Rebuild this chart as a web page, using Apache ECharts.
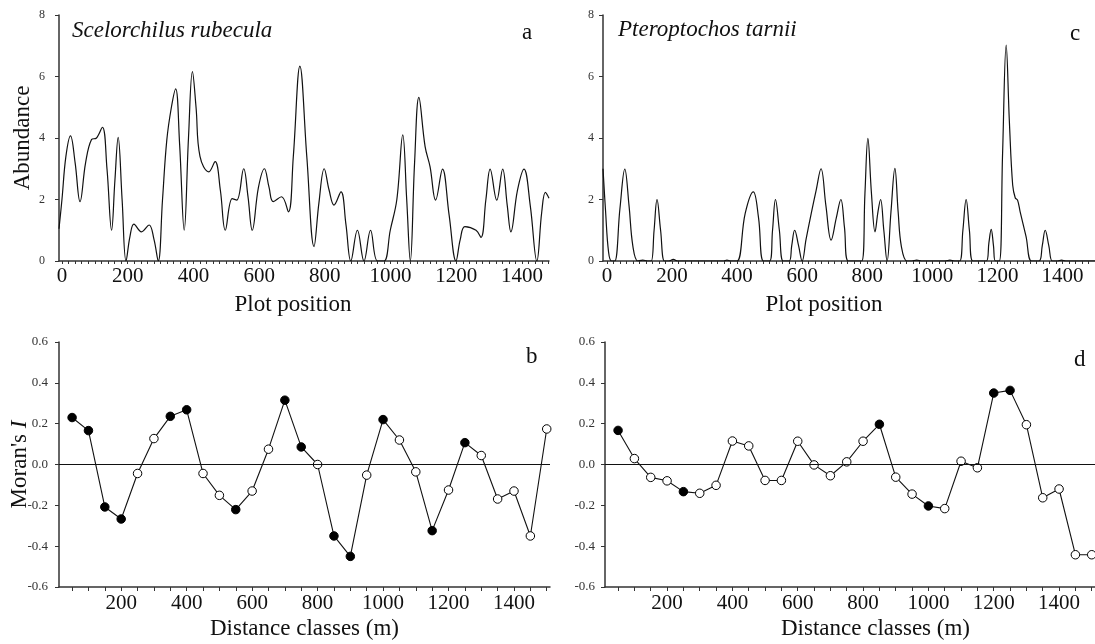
<!DOCTYPE html>
<html><head><meta charset="utf-8">
<script src="https://cdn.jsdelivr.net/npm/echarts@6/dist/echarts.min.js"></script>
<style>html,body{margin:0;padding:0;background:#fff}#c{width:1095px;height:644px}</style>
</head><body><div id="c"></div>
<script>
// ---- Data ----
const plotPositionTicks = [0, 200, 400, 600, 800, 1000, 1200, 1400];
const distanceTicks = [200, 400, 600, 800, 1000, 1200, 1400];
const abundanceTicks = [0, 2, 4, 6, 8];
const moranTicks = [-0.6, -0.4, -0.2, 0.0, 0.2, 0.4, 0.6];

// Panel a: Scelorchilus rubecula abundance profile [position, abundance]
const abundanceA = [[-9,1.05],[0,2.0],[12,3.4],[26,4.07],[40,3.2],[55,1.93],[72,3.2],[90,3.95],[105,4.0],[123,4.35],[137,3.0],[151,1.0],[161,2.6],[171,4.02],[183,2.0],[195,0],[207,0.8],[219,1.2],[242,0.95],[265,1.17],[280,0.7],[293,0],[306,2.0],[319,3.93],[333,5.0],[346,5.6],[358,3.8],[372,1.0],[385,4.0],[397,6.16],[408,5.0],[420,3.4],[447,2.9],[466,3.23],[482,2.3],[497,1.0],[518,2.03],[532,1.98],[553,3.0],[566,2.1],[579,1.0],[598,2.4],[616,3.0],[630,2.4],[643,1.93],[668,2.09],[689,1.6],[704,3.4],[724,6.34],[745,3.4],[767,0.47],[782,1.9],[798,3.0],[813,2.3],[828,1.82],[849,2.25],[864,1.2],[879,0],[899,1.0],[919,0],[939,1.0],[960,0],[980,0],[999,1.0],[1019,2.0],[1037,4.1],[1049,2.0],[1060,0],[1073,3.2],[1086,5.32],[1105,3.72],[1120,3.07],[1137,1.98],[1158,2.99],[1178,1.5],[1199,0],[1212,0.7],[1226,1.12],[1260,1.0],[1275,0.77],[1290,2.0],[1303,2.99],[1323,1.98],[1341,2.99],[1355,1.8],[1366,0.95],[1386,2.3],[1406,2.99],[1425,1.8],[1445,0],[1460,1.6],[1471,2.23],[1482,2.04]];

// Panel c: Pteroptochos tarnii abundance profile [position, abundance]
const abundanceC = [[-12,3.0],[-4,1.6],[5,0.3],[14,0],[24,0],[40,1.7],[55,2.99],[68,1.8],[80,0.47],[95,0],[110,0.03],[125,0],[136,0],[145,1.0],[154,2.0],[165,1.0],[177,0],[190,0],[204,0.05],[218,0],[359,0],[369,0.03],[380,0],[400,0],[425,1.55],[450,2.25],[466,1.4],[481,0],[500,0],[509,1.0],[518,2.0],[530,1.0],[542,0],[560,0],[568,0.5],[577,1.0],[589,0.5],[600,0],[612,0.7],[628,1.55],[643,2.3],[658,3.0],[673,1.8],[689,0.68],[705,1.4],[719,2.0],[730,1.1],[742,0],[783,0],[793,2.2],[802,3.99],[813,2.2],[824,0.95],[833,1.6],[841,2.0],[851,1.0],[861,0],[873,1.6],[885,3.01],[895,1.6],[905,0.47],[922,0],[937,0],[952,0.03],[967,0],[1040,0],[1054,0.03],[1068,0],[1084,0],[1094,1.0],[1104,2.0],[1114,1.0],[1125,0],[1166,0],[1174,0.6],[1181,1.03],[1188,0.5],[1194,0],[1206,0],[1216,3.5],[1227,7.02],[1237,4.5],[1247,2.47],[1255,2.05],[1262,1.98],[1270,1.6],[1288,0.8],[1305,0],[1328,0],[1338,0.5],[1347,1.0],[1358,0.5],[1369,0],[1385,0],[1397,0.03],[1410,0],[1500,0]];

// Correlograms (distance classes, Moran's I, significance 1 = filled)
const distanceClasses = [50,100,150,200,250,300,350,400,450,500,550,600,650,700,750,800,850,900,950,1000,1050,1100,1150,1200,1250,1300,1350,1400,1450,1500];
const moranB = [0.23,0.166,-0.208,-0.267,-0.044,0.127,0.236,0.268,-0.044,-0.151,-0.221,-0.13,0.075,0.315,0.086,0.0,-0.35,-0.45,-0.052,0.22,0.12,-0.036,-0.324,-0.125,0.107,0.044,-0.169,-0.13,-0.35,0.174];
const sigB = [1,1,1,1,0,0,1,1,0,0,1,0,0,1,1,0,1,1,0,1,0,0,1,0,1,0,0,0,0,0];
const moranD = [0.167,0.029,-0.063,-0.08,-0.133,-0.141,-0.102,0.115,0.091,-0.078,-0.078,0.114,-0.002,-0.055,0.013,0.114,0.197,-0.062,-0.145,-0.203,-0.216,0.016,-0.016,0.35,0.363,0.195,-0.163,-0.12,-0.442,-0.442];
const sigD = [1,0,0,0,1,0,0,0,0,0,0,0,0,0,0,0,1,0,0,1,0,0,0,1,1,0,0,0,0,0];

// ---- Styling ----
const FF = 'Liberation Serif';
const AX = '#333';
const minorPlot = []; for (let v = 0; v <= 1500; v += 20) minorPlot.push(v);
const classTicks = distanceClasses.slice();
const plain = v => String(Math.round(v));

function topX(idx, min, max, namePad) {
  return {
    type: 'value', gridIndex: idx, min: min, max: max,
    name: 'Plot position', nameLocation: 'middle', nameGap: 32, nameMoveOverlap: false,
    nameTextStyle: {fontFamily: FF, fontSize: 23, color: '#111', padding: namePad},
    axisLine: {show: true, onZero: false, lineStyle: {color: AX, width: 1.5}},
    axisTick: {show: true, customValues: minorPlot.filter(v => v >= min && v <= max), length: 3, lineStyle: {color: AX, width: 1}},
    axisLabel: {customValues: plotPositionTicks, formatter: plain, fontFamily: FF, fontSize: 21, color: '#111', margin: 5},
    splitLine: {show: false}
  };
}
function botX(idx, namePad) {
  return {
    type: 'value', gridIndex: idx, min: 10, max: 1510,
    name: 'Distance classes (m)', nameLocation: 'middle', nameGap: 30, nameMoveOverlap: false,
    nameTextStyle: {fontFamily: FF, fontSize: 23, color: '#111', padding: namePad},
    axisLine: {show: true, onZero: false, lineStyle: {color: AX, width: 1.5}},
    axisTick: {show: true, customValues: classTicks, length: 4, lineStyle: {color: AX, width: 1}},
    axisLabel: {customValues: distanceTicks, formatter: plain, fontFamily: FF, fontSize: 21, color: '#111', margin: 6},
    splitLine: {show: false}
  };
}
function topY(idx, name, margin) {
  return {
    type: 'value', gridIndex: idx, min: 0, max: 8, interval: 2,
    name: name, nameLocation: 'middle', nameGap: 25, nameMoveOverlap: false,
    nameTextStyle: {fontFamily: FF, fontSize: 23, color: '#111'},
    axisLine: {show: true, onZero: false, lineStyle: {color: AX, width: 1.5}},
    axisTick: {show: true, customValues: abundanceTicks, length: 4, lineStyle: {color: AX, width: 1}},
    axisLabel: {customValues: abundanceTicks, formatter: plain, fontFamily: FF, fontSize: 12, color: '#333', margin: margin},
    splitLine: {show: false}
  };
}
function botY(idx, name, margin) {
  return {
    type: 'value', gridIndex: idx, min: -0.6, max: 0.6, interval: 0.2,
    name: name, nameLocation: 'middle', nameGap: 28, nameMoveOverlap: false,
    nameTextStyle: {fontFamily: FF, fontSize: 23, color: '#111',
      rich: {i: {fontFamily: FF, fontSize: 23, fontStyle: 'italic', color: '#111'}}},
    axisLine: {show: true, onZero: false, lineStyle: {color: AX, width: 1.5}},
    axisTick: {show: true, customValues: moranTicks, length: 4, lineStyle: {color: AX, width: 1}},
    axisLabel: {customValues: moranTicks, fontFamily: FF, fontSize: 13, color: '#333', margin: margin,
      formatter: v => (Math.abs(v) < 1e-9 ? 0 : v).toFixed(1)},
    splitLine: {show: false}
  };
}
function corrData(vals, sig) {
  return distanceClasses.map((d, i) => ({
    value: [d, vals[i]],
    itemStyle: {color: sig[i] ? '#000' : '#fff', borderColor: '#000', borderWidth: 1}
  }));
}
function corrSeries(idx, vals, sig) {
  return {
    type: 'line', xAxisIndex: idx, yAxisIndex: idx, data: corrData(vals, sig),
    symbol: 'circle', symbolSize: 8.5, showSymbol: true, clip: false,
    lineStyle: {color: '#111', width: 1.1}, animation: false, silent: true,
    markLine: {silent: true, symbol: 'none', label: {show: false},
      lineStyle: {color: '#111', width: 1.1, type: 'solid'}, data: [{yAxis: 0}], animation: false}
  };
}

const chart = echarts.init(document.getElementById('c'), null, {renderer: 'canvas'});
chart.setOption({
  backgroundColor: '#fff',
  animation: false,
  textStyle: {fontFamily: FF},
  grid: [
    {left: 59, top: 15, width: 490, height: 246},
    {left: 603, top: 15, width: 497, height: 246},
    {left: 59, top: 342, width: 491, height: 245},
    {left: 605, top: 342, width: 491, height: 245}
  ],
  xAxis: [topX(0, -9, 1482, [0, 22, 0, 0]), topX(1, -12, 1500, [0, 50, 0, 0]), botX(2, [0, 0, 0, 0]), botX(3, [0, 0, 0, 51])],
  yAxis: [topY(0, 'Abundance', 14), topY(1, '', 9), botY(2, "Moran's {i|I}", 11), botY(3, '', 10)],
  series: [
    {type: 'line', xAxisIndex: 0, yAxisIndex: 0, data: abundanceA, smooth: 0.4, showSymbol: false,
      lineStyle: {color: '#111', width: 1.2}, clip: true, silent: true},
    {type: 'line', xAxisIndex: 1, yAxisIndex: 1, data: abundanceC, smooth: 0.4, showSymbol: false,
      lineStyle: {color: '#111', width: 1.2}, clip: true, silent: true},
    corrSeries(2, moranB, sigB),
    corrSeries(3, moranD, sigD)
  ],
  graphic: [
    {type: 'text', left: 72, top: 19, style: {text: 'Scelorchilus rubecula', font: 'italic 23px "Liberation Serif"', fill: '#111'}},
    {type: 'text', left: 618, top: 18, style: {text: 'Pteroptochos tarnii', font: 'italic 23px "Liberation Serif"', fill: '#111'}},
    {type: 'text', left: 522, top: 21, style: {text: 'a', font: '23px "Liberation Serif"', fill: '#111'}},
    {type: 'text', left: 1070, top: 22, style: {text: 'c', font: '23px "Liberation Serif"', fill: '#111'}},
    {type: 'text', left: 526, top: 345, style: {text: 'b', font: '23px "Liberation Serif"', fill: '#111'}},
    {type: 'text', left: 1074, top: 348, style: {text: 'd', font: '23px "Liberation Serif"', fill: '#111'}}
  ]
});
</script></body></html>
